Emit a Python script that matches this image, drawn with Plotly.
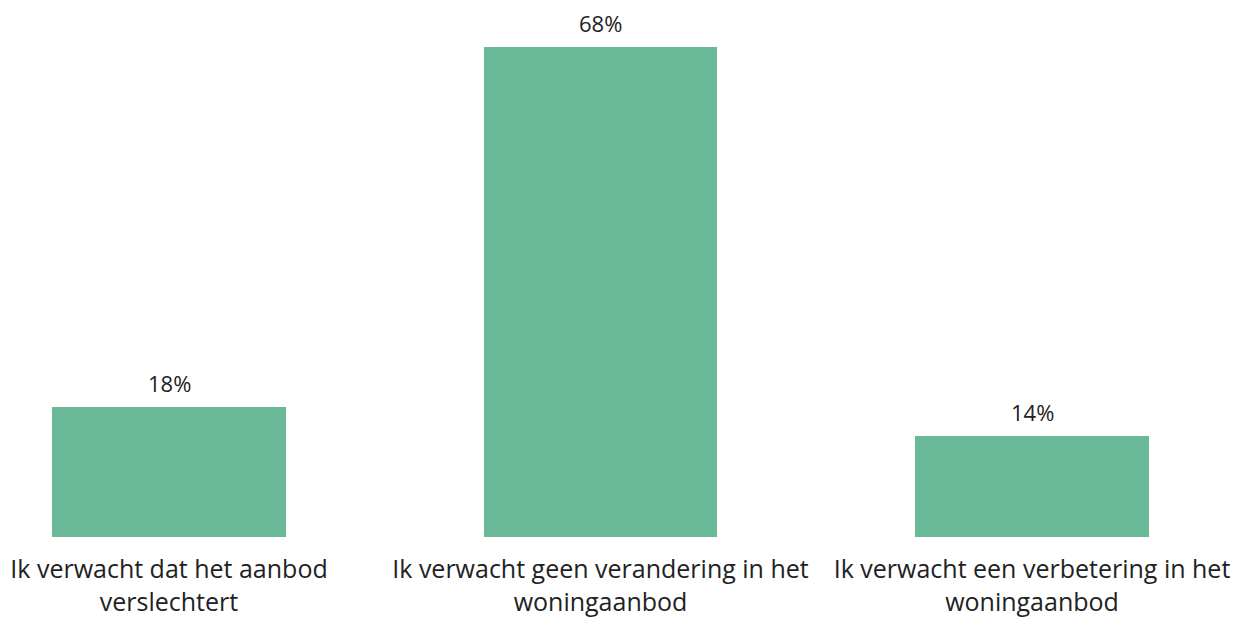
import plotly.graph_objects as go

categories = [
    "Ik verwacht dat het aanbod<br>verslechtert",
    "Ik verwacht geen verandering in het<br>woningaanbod",
    "Ik verwacht een verbetering in het<br>woningaanbod",
]
values = [18, 68, 14]
value_labels = ["18%", "68%", "14%"]

x_pos = list(range(len(categories)))
bar_color = "#69B999"
text_color = "#222222"
font_family = "'Open Sans', Lato, sans-serif"

W, H = 1243, 611  # page has an 8px body margin
fig = go.Figure()
fig.add_trace(go.Bar(
    x=x_pos,
    y=values,
    width=0.542,
    marker=dict(color=bar_color, line=dict(width=0)),
    hoverinfo="skip",
))

for xi, v, lab in zip(x_pos, values, value_labels):
    fig.add_annotation(
        x=xi, y=v, text=lab, showarrow=False,
        yanchor="bottom", yshift=8, borderpad=0,
        font=dict(family=font_family, size=22, color=text_color),
    )

fig.update_layout(
    width=W, height=H,
    margin=dict(l=0, r=0, t=0, b=82),
    plot_bgcolor="white", paper_bgcolor="white",
    showlegend=False,
    bargap=0,
    xaxis=dict(
        range=[-161 / 431.5, (W - 161) / 431.5],
        tickmode="array", tickvals=x_pos, ticktext=categories,
        showgrid=False, zeroline=False, showline=False, ticks="",
        ticklabelstandoff=15,
        tickfont=dict(family=font_family, size=25, color=text_color),
        fixedrange=True,
    ),
    yaxis=dict(
        range=[0, 529 / 7.2],
        visible=False, showgrid=False, zeroline=False,
        fixedrange=True,
    ),
)

fig.write_html("out.html")
